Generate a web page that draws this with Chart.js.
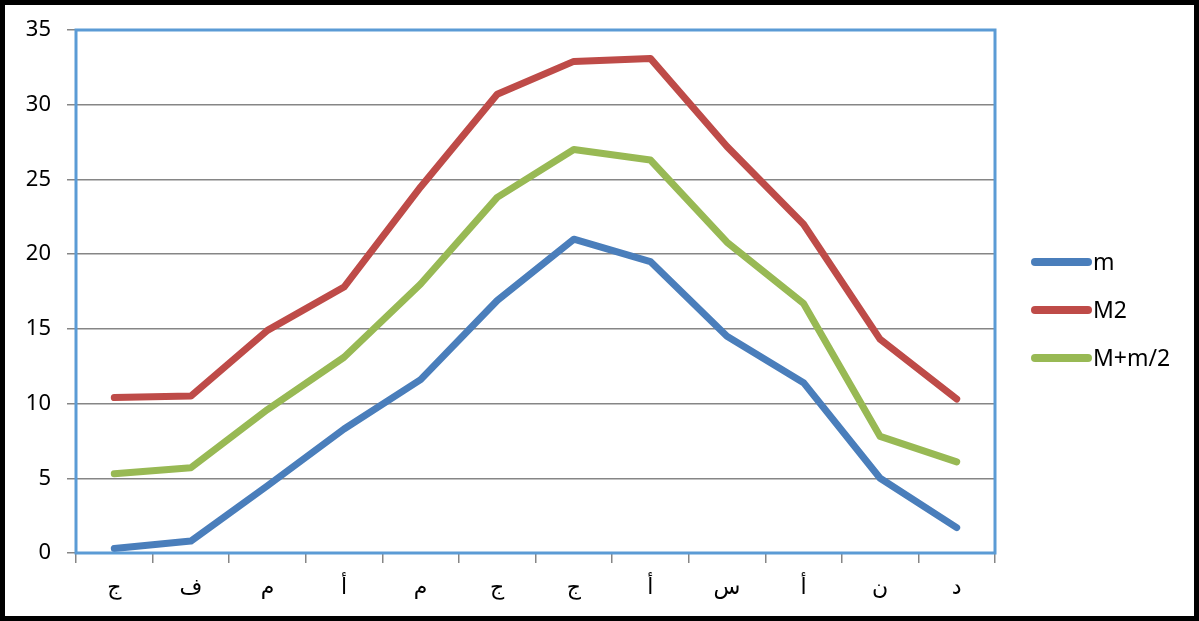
<!DOCTYPE html>
<html>
<head>
<meta charset="utf-8">
<script src="https://cdn.jsdelivr.net/npm/chart.js@4"></script>
<style>
    body { margin: 0; background: #fff; }
    #wrap { width: 1199px; height: 621px; position: relative; }
</style>
</head>
<body>
<div id="wrap"><canvas id="chart"></canvas></div>
<script>
// Data
const months = ['ج', 'ف', 'م', 'أ', 'م', 'ج', 'ج', 'أ', 'س', 'أ', 'ن', 'د'];
const seriesNames = ['m', 'M2', 'M+m/2'];
const mValues = [0.3, 0.8, 4.5, 8.3, 11.6, 16.9, 21.0, 19.5, 14.5, 11.4, 5.0, 1.7];
const m2Values = [10.4, 10.5, 14.9, 17.8, 24.5, 30.7, 32.9, 33.1, 27.2, 22.0, 14.3, 10.3];
const avgValues = [5.3, 5.7, 9.6, 13.1, 18.0, 23.8, 27.0, 26.3, 20.8, 16.7, 7.8, 6.1];
const yTicks = [0, 5, 10, 15, 20, 25, 30, 35];

const colors = ['#4A7EBB', '#BE4B48', '#98B954'];
const FONT = "'Noto Sans', 'DejaVu Sans', sans-serif";

// Plot border, custom legend, outer frame
const framePlugin = {
    id: 'frame',
    afterDraw(chart) {
        const ctx = chart.ctx;
        const a = chart.chartArea;
        ctx.save();
        // plot area border
        ctx.strokeStyle = '#5B9BD5';
        ctx.lineWidth = 3;
        ctx.strokeRect(a.left, a.top, a.right - a.left, a.bottom - a.top);

        // legend
        ctx.lineCap = 'round';
        ctx.lineWidth = 8;
        ctx.font = '23px ' + FONT;
        ctx.textBaseline = 'middle';
        chart.data.datasets.forEach((ds, i) => {
            const y = 262 + i * 48;
            ctx.strokeStyle = ds.borderColor;
            ctx.beginPath();
            ctx.moveTo(1035, y);
            ctx.lineTo(1088, y);
            ctx.stroke();
            ctx.fillStyle = '#000';
            ctx.fillText(ds.label, 1093, y + 1);
        });

        // outer black frame
        ctx.lineCap = 'butt';
        ctx.strokeStyle = '#000';
        ctx.lineWidth = 5;
        ctx.strokeRect(2.5, 2.5, chart.width - 5, chart.height - 5);
        ctx.restore();
    }
};

const ctx = document.getElementById('chart').getContext('2d');
new Chart(ctx, {
    type: 'line',
    data: {
        labels: months,
        datasets: [mValues, m2Values, avgValues].map((vals, i) => ({
            label: seriesNames[i],
            data: vals,
            borderColor: colors[i],
            backgroundColor: colors[i],
            borderWidth: 7,
            borderCapStyle: 'round',
            borderJoinStyle: 'round',
            pointRadius: 0,
            tension: 0,
            fill: false
        }))
    },
    options: {
        responsive: true,
        maintainAspectRatio: false,
        animation: false,
        layout: { padding: { top: 30, right: 204, left: 0, bottom: 0 } },
        plugins: {
            legend: { display: false },
            tooltip: { enabled: false }
        },
        scales: {
            x: {
                offset: true,
                afterFit: s => { s.height = 68; },
                grid: {
                    offset: true,
                    drawOnChartArea: false,
                    drawTicks: true,
                    tickLength: 10,
                    color: '#868686',
                    lineWidth: 1.5
                },
                border: { display: false },
                ticks: {
                    color: '#000',
                    padding: 12,
                    maxRotation: 0,
                    font: { family: FONT, size: 22 }
                }
            },
            y: {
                min: 0,
                max: 35,
                afterFit: s => { s.width = 76; },
                afterBuildTicks: s => { s.ticks = yTicks.map(v => ({ value: v })); },
                grid: {
                    color: '#868686',
                    lineWidth: 1.5,
                    tickLength: 9
                },
                border: { display: false },
                ticks: {
                    color: '#000',
                    padding: 16,
                    font: { family: FONT, size: 22 }
                }
            }
        }
    },
    plugins: [framePlugin]
});
</script>
</body>
</html>
